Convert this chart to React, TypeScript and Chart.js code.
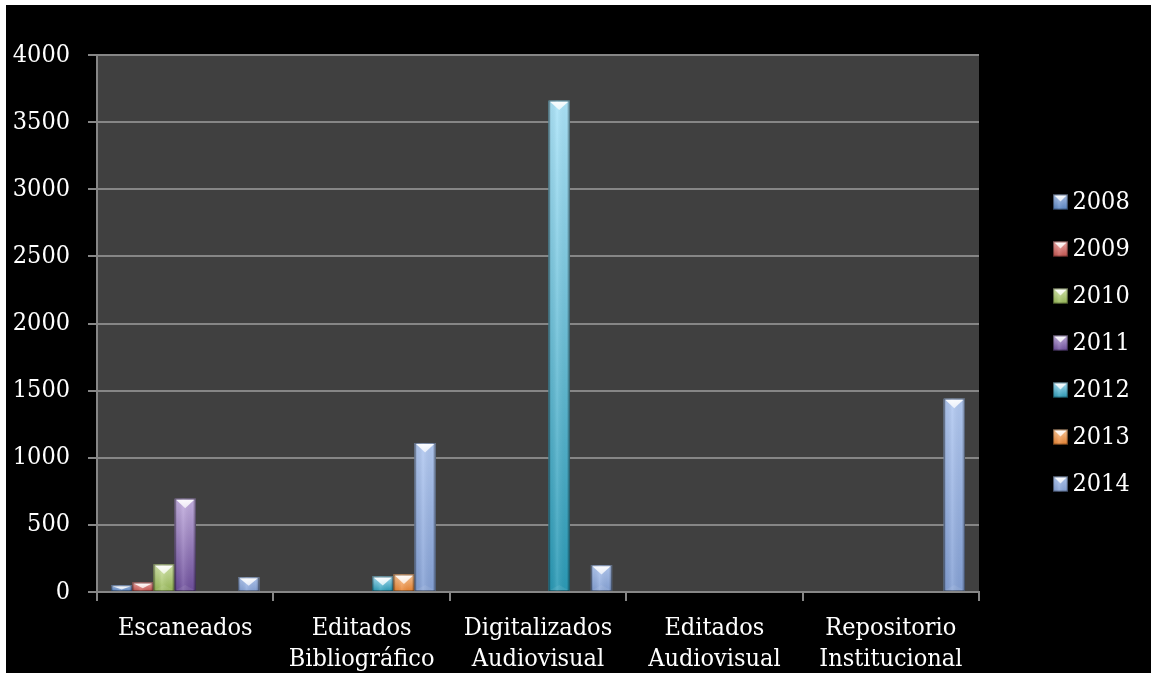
import React, { useEffect, useRef } from 'react';
import { Chart, registerables } from 'chart.js';

Chart.register(...registerables);

// ---------- data ----------
const CATEGORIES: (string | string[])[] = [
  'Escaneados',
  ['Editados', 'Bibliográfico'],
  ['Digitalizados', 'Audiovisual'],
  ['Editados', 'Audiovisual'],
  ['Repositorio', 'Institucional'],
];
const SERIES_NAMES = ['2008', '2009', '2010', '2011', '2012', '2013', '2014'];
const V2008 = [50, null, null, null, null];
const V2009 = [70, null, null, null, null];
const V2010 = [205, null, null, null, null];
const V2011 = [695, null, null, null, null];
const V2012 = [null, 115, 3660, null, null];
const V2013 = [null, 130, null, null, null];
const V2014 = [110, 1110, 200, null, 1440];
const SERIES_VALUES = [V2008, V2009, V2010, V2011, V2012, V2013, V2014];
const Y_MIN = 0;
const Y_MAX = 4000;
const Y_STEP = 500;

// ---------- styles ----------
const BASE_COLORS = ['#4F81BD', '#C0504D', '#9BBB59', '#8064A2', '#4BACC6', '#F79646', '#95B3D7'];
const LIGHT_COLORS = ['#adc4ea', '#f2aaa8', '#d5e7ad', '#c4b0e0', '#ace4f9', '#fdc898', '#b2c9f1'];
const DARK_COLORS = ['#5a86c4', '#c4544f', '#98b957', '#6e4f9c', '#2b9bb7', '#e98534', '#86a2d6'];
const FONT = "'DejaVu Serif Condensed', 'DejaVu Serif', serif";
const FONT_SIZE = 25;
const GRID = '#868686';
const PLOT_BG = '#404040';

const CANVAS_W = 1145;
const CANVAS_H = 668;
const LEGEND_W = 172;
const Y_AXIS_W = 91;
const X_AXIS_H = 81;
const LEGEND_BOX_LEFT = 1047;
const LEGEND_FIRST_CENTER = 197;
const LEGEND_BOX = 15;

function drawBevel(ctx: CanvasRenderingContext2D, left: number, top: number, w: number, h: number, light: string, dark: string) {
  if (h <= 0.5 || w <= 0) return;
  ctx.save();
  const g = ctx.createLinearGradient(0, top, 0, top + h);
  g.addColorStop(0, light);
  g.addColorStop(1, dark);
  ctx.fillStyle = g;
  ctx.fillRect(left, top, w, h);
  const hg = ctx.createLinearGradient(left, 0, left + w, 0);
  hg.addColorStop(0, 'rgba(0,0,0,0.35)');
  hg.addColorStop(0.12, 'rgba(0,0,0,0.05)');
  hg.addColorStop(0.4, 'rgba(255,255,255,0.12)');
  hg.addColorStop(0.85, 'rgba(0,0,0,0.03)');
  hg.addColorStop(1, 'rgba(0,0,0,0.35)');
  ctx.fillStyle = hg;
  ctx.fillRect(left, top, w, h);
  // top V bevel
  const d = Math.min(w * 0.4, h * 0.55);
  ctx.beginPath();
  ctx.moveTo(left + 1.5, top + 1);
  ctx.lineTo(left + w - 1.5, top + 1);
  ctx.lineTo(left + w / 2, top + 1 + d);
  ctx.closePath();
  const tg = ctx.createLinearGradient(0, top, 0, top + d + 1);
  tg.addColorStop(0, 'rgba(255,255,255,0.97)');
  tg.addColorStop(1, 'rgba(255,255,255,0.7)');
  ctx.fillStyle = tg;
  ctx.fill();
  // faint bottom bevel
  if (h > 2 * d + 4) {
    ctx.beginPath();
    ctx.moveTo(left + 1.5, top + h - 1);
    ctx.lineTo(left + w - 1.5, top + h - 1);
    ctx.lineTo(left + w / 2, top + h - 1 - d * 0.6);
    ctx.closePath();
    ctx.fillStyle = 'rgba(255,255,255,0.08)';
    ctx.fill();
  }
  ctx.strokeStyle = 'rgba(0,0,0,0.3)';
  ctx.lineWidth = 1;
  ctx.strokeRect(left + 0.5, top + 0.5, w - 1, h - 1);
  ctx.restore();
}

const pagePlugin = {
  id: 'pageBg',
  beforeDraw(chart: any) {
    const { ctx, chartArea, width, height } = chart;
    ctx.save();
    ctx.fillStyle = '#000';
    ctx.fillRect(0, 0, width, height);
    ctx.fillStyle = PLOT_BG;
    ctx.fillRect(chartArea.left, chartArea.top, chartArea.right - chartArea.left, chartArea.bottom - chartArea.top);
    ctx.restore();
  },
};

const legendFixPlugin = {
  id: 'legendFix',
  beforeLayout(chart: any) {
    const lg = chart.legend;
    if (lg && !lg.__patched) {
      const orig = lg.fit.bind(lg);
      lg.fit = () => {
        orig();
        lg.width = LEGEND_W;
      };
      lg.__patched = true;
    }
  },
  afterUpdate(chart: any) {
    const lg = chart.legend;
    if (!lg || !lg.legendHitBoxes || !lg.legendHitBoxes.length) return;
    const hb0 = lg.legendHitBoxes[0];
    const dx = LEGEND_BOX_LEFT - hb0.left;
    const dy = LEGEND_FIRST_CENTER - FONT_SIZE / 2 - hb0.top;
    lg.left += dx;
    lg.right += dx;
    lg.top += dy;
    lg.bottom += dy;
    for (const hb of lg.legendHitBoxes) {
      hb.left += dx;
      hb.top += dy;
    }
  },
};

const bevelPlugin = {
  id: 'bevel',
  afterDatasetsDraw(chart: any) {
    const ctx = chart.ctx;
    const area = chart.chartArea;
    ctx.save();
    ctx.beginPath();
    ctx.rect(area.left, area.top, area.right - area.left, area.bottom - area.top);
    ctx.clip();
    chart.data.datasets.forEach((_ds: any, i: number) => {
      const meta = chart.getDatasetMeta(i);
      meta.data.forEach((el: any, j: number) => {
        const v = chart.data.datasets[i].data[j];
        if (v === null || v === undefined) return;
        const p = el.getProps(['x', 'y', 'base', 'width'], true);
        const left = p.x - p.width / 2;
        const top = Math.min(p.y, p.base);
        const h = Math.abs(p.base - p.y);
        drawBevel(ctx, left, top, p.width, h, LIGHT_COLORS[i], DARK_COLORS[i]);
      });
    });
    ctx.restore();
  },
  afterDraw(chart: any) {
    const lg = chart.legend;
    if (!lg || !lg.legendHitBoxes) return;
    const ctx = chart.ctx;
    lg.legendHitBoxes.forEach((hb: any, i: number) => {
      const top = hb.top + Math.max((FONT_SIZE - LEGEND_BOX) / 2, 0);
      ctx.save();
      ctx.fillStyle = '#000';
      ctx.fillRect(hb.left - 1, top - 1, LEGEND_BOX + 2, LEGEND_BOX + 2);
      ctx.restore();
      drawBevel(ctx, hb.left, top, LEGEND_BOX, LEGEND_BOX, LIGHT_COLORS[i], DARK_COLORS[i]);
    });
  },
};

export default function App() {
  const ref = useRef<HTMLCanvasElement>(null);
  useEffect(() => {
    document.body.style.margin = '0';
    document.body.style.background = '#fff';
    const canvas = ref.current;
    if (!canvas) return;
    const chart = new Chart(canvas, {
      type: 'bar',
      data: {
        labels: CATEGORIES as any,
        datasets: SERIES_NAMES.map((name, i) => ({
          label: name,
          data: SERIES_VALUES[i] as any,
          backgroundColor: BASE_COLORS[i],
          borderWidth: 0,
          categoryPercentage: 0.84,
          barPercentage: 1,
        })),
      },
      options: {
        responsive: false,
        animation: false,
        devicePixelRatio: 1,
        layout: { padding: { top: 50, left: 0, right: 0, bottom: 0 } },
        plugins: {
          tooltip: { enabled: false },
          legend: {
            position: 'right',
            align: 'center',
            labels: {
              color: '#fff',
              font: { family: FONT, size: FONT_SIZE },
              boxWidth: 7,
              boxHeight: LEGEND_BOX,
              padding: 22,
            },
          },
        },
        scales: {
          x: {
            afterFit(scale: any) {
              scale.height = X_AXIS_H;
            },
            grid: {
              display: true,
              drawOnChartArea: false,
              drawTicks: true,
              tickLength: 9,
              color: GRID,
              lineWidth: 2,
            },
            border: { display: true, color: GRID, width: 2 },
            ticks: {
              color: '#fff',
              font: { family: FONT, size: FONT_SIZE, lineHeight: 1.25 },
              padding: 12,
              maxRotation: 0,
              autoSkip: false,
            },
          },
          y: {
            min: Y_MIN,
            max: Y_MAX,
            afterFit(scale: any) {
              scale.width = Y_AXIS_W;
            },
            grid: {
              color: GRID,
              lineWidth: 2,
              tickLength: 9,
              drawTicks: true,
            },
            border: { display: true, color: GRID, width: 2 },
            ticks: {
              stepSize: Y_STEP,
              color: '#fff',
              font: { family: FONT, size: FONT_SIZE },
              padding: 18,
              callback: (v: any) => String(v),
            },
          },
        },
      },
      plugins: [pagePlugin, legendFixPlugin, bevelPlugin],
    } as any);
    return () => chart.destroy();
  }, []);
  return (
    <div style={{ position: 'relative', width: 1151, height: 675, background: '#fff', overflow: 'hidden' }}>
      <canvas
        ref={ref}
        width={CANVAS_W}
        height={CANVAS_H}
        style={{ position: 'absolute', left: 6, top: 5, width: CANVAS_W, height: CANVAS_H, display: 'block', background: '#000' }}
      />
    </div>
  );
}
